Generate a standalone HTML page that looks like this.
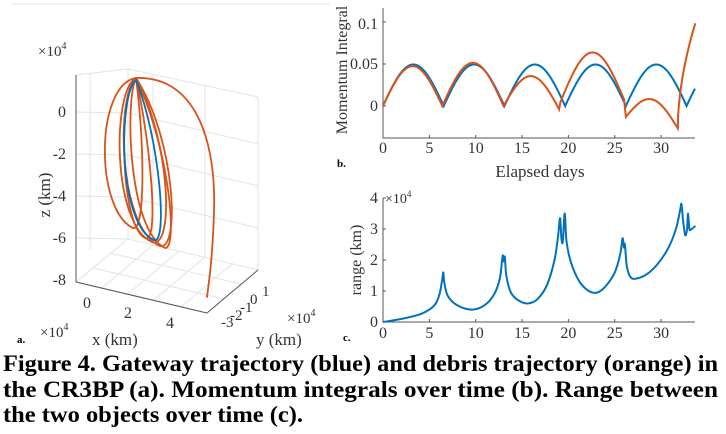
<!DOCTYPE html>
<html><head><meta charset="utf-8"><style>
html,body{margin:0;padding:0;background:#fff;}
svg{display:block;font-family:"Liberation Serif",serif;}
</style></head><body>
<svg id="s" width="726" height="434" viewBox="0 0 726 434" xmlns="http://www.w3.org/2000/svg">
<rect width="726" height="434" fill="#fff"/>
<g stroke="#e3e3e3" stroke-width="1" fill="none">
<line x1="12" y1="4" x2="330" y2="4"/>
<polygon points="76,282 207,313 258,270 128,239"/>
<line x1="128" y1="239" x2="128" y2="69"/>
<line x1="258" y1="270" x2="258" y2="97"/>
<line x1="128" y1="69" x2="258" y2="97"/>
<line x1="76" y1="75" x2="128" y2="69"/>
<line x1="102" y1="288" x2="153" y2="245"/>
<line x1="128" y1="294" x2="179" y2="251"/>
<line x1="154" y1="300" x2="205" y2="257"/>
<line x1="181" y1="307" x2="232" y2="264"/>
<line x1="93" y1="268" x2="224" y2="299"/>
<line x1="110" y1="253" x2="241" y2="284"/>
<line x1="128" y1="197" x2="258" y2="228"/>
<line x1="128" y1="155" x2="258" y2="186"/>
<line x1="128" y1="113" x2="258" y2="144"/>
<line x1="76" y1="112" x2="128" y2="113"/>
<line x1="76" y1="154" x2="128" y2="155"/>
<line x1="76" y1="196" x2="128" y2="197"/>
<line x1="76" y1="238" x2="128" y2="239"/>
<line x1="90" y1="73" x2="90" y2="250"/>
<line x1="153" y1="75" x2="153" y2="245"/>
<line x1="205" y1="86" x2="205" y2="257"/>
</g>
<g stroke="#555" stroke-width="1">
<line x1="76" y1="282" x2="207" y2="313"/>
<line x1="207" y1="313" x2="258" y2="270"/>
<line x1="76" y1="75" x2="76" y2="282"/>
</g>
<g fill="none" stroke-width="1.8" stroke-linecap="round">
<path stroke="#D95319" d="M136,78 C95,85 95,210 133,228 C145,232 145,150 136,78"/>
<path stroke="#D95319" d="M136,78 C112,90 112,225 152,242 C175,250 170,140 136,78"/>
<path stroke="#D95319" d="M136,78 C116,95 118,228 160,246 C180,252 176,140 136,78"/>
<path stroke="#D95319" d="M136,78 C118,95 120,225 145,238 C160,245 150,140 136,78"/>
<path stroke="#D95319" d="M136,78 C125,100 128,230 165,248 C178,250 170,150 136,78"/>
<path stroke="#0072BD" d="M136,80 C118,95 118,225 154,240 C168,245 160,140 136,80"/>
<path stroke="#D95319" d="M136,78 C200,76 216,150 214,210 C213,250 210,275 207,297"/>
</g>
<g font-size="16" fill="#333" text-anchor="end">
<text x="66" y="117">0</text><text x="66" y="159">-2</text><text x="66" y="201">-4</text><text x="66" y="243">-6</text><text x="66" y="285">-8</text>
</g>
<text x="38" y="56" font-size="15" fill="#333">×10<tspan font-size="10" dy="-7">4</tspan></text>
<text transform="translate(50,195) rotate(-90)" font-size="17" fill="#333" text-anchor="middle">z (km)</text>
<g font-size="16" fill="#333" text-anchor="middle">
<text x="87" y="308">0</text><text x="128" y="318">2</text><text x="170" y="328">4</text>
</g>
<g font-size="15" fill="#333">
<text x="221" y="327">-3</text><text x="230" y="320">-2</text><text x="240" y="312">-1</text><text x="250" y="304">0</text><text x="262" y="296">1</text>
</g>
<text x="287" y="323" font-size="15" fill="#333">×10<tspan font-size="10" dy="-7">4</tspan></text>
<text x="40" y="337" font-size="15" fill="#333">×10<tspan font-size="10" dy="-7">4</tspan></text>
<text x="17" y="343" font-size="11" font-weight="bold">a.</text>
<text x="92" y="345" font-size="17" fill="#333">x (km)</text>
<text x="256" y="345" font-size="17" fill="#333">y (km)</text>
<g stroke="#555" stroke-width="1" fill="none">
<path d="M383,8 V138 H695"/>
</g>
<g id="bt" stroke="#555"></g>
<g font-size="16" fill="#333" text-anchor="end">
<text x="378" y="29">0.1</text><text x="378" y="69">0.05</text><text x="378" y="111">0</text>
</g>
<g id="bx" font-size="16" fill="#333" text-anchor="middle"></g>
<text x="540" y="177" font-size="17" fill="#333" text-anchor="middle">Elapsed days</text>
<text transform="translate(347,70) rotate(-90)" font-size="16" fill="#333" text-anchor="middle">Momentum Integral</text>
<text x="337" y="167" font-size="11" font-weight="bold">b.</text>
<path id="mb" fill="none" stroke="#0072BD" stroke-width="2"/>
<path id="mo" fill="none" stroke="#D95319" stroke-width="2"/>
<g stroke="#555" stroke-width="1" fill="none">
<path d="M383,198 V322 H695"/>
</g>
<g font-size="16" fill="#333" text-anchor="end">
<text x="378" y="327">0</text><text x="378" y="296">1</text><text x="378" y="265">2</text><text x="378" y="234">3</text><text x="378" y="203">4</text>
</g>
<text x="385" y="203" font-size="14" fill="#333">×10<tspan font-size="9" dy="-6">4</tspan></text>
<text transform="translate(361,260) rotate(-90)" font-size="16" fill="#333" text-anchor="middle">range (km)</text>
<g id="cx" font-size="16" fill="#333" text-anchor="middle"></g>
<text x="343" y="341" font-size="11" font-weight="bold">c.</text>
<path id="rc" fill="none" stroke="#0072BD" stroke-width="2" stroke-linejoin="round"/>
<g font-size="23" font-weight="bold" fill="#000">
<text x="3" y="371" textLength="715" lengthAdjust="spacingAndGlyphs">Figure 4.  Gateway trajectory (blue) and debris trajectory (orange) in</text>
<text x="3" y="397" textLength="715" lengthAdjust="spacingAndGlyphs">the CR3BP (a).  Momentum integrals over time (b). Range between</text>
<text x="3" y="422" textLength="300" lengthAdjust="spacingAndGlyphs">the two objects over time (c).</text>
</g>
</svg>
<script>
var NS="http://www.w3.org/2000/svg";
function X(t){return 383+t*9.27;}
function Yb(v){return 106-v*830;}
function Yc(r){return 322-r*31;}
var bt=document.getElementById('bt'),bx=document.getElementById('bx'),cx=document.getElementById('cx');
for(var t=0;t<=30;t+=5){
 [[bx,153],[cx,338]].forEach(function(a){var e=document.createElementNS(NS,'text');e.setAttribute('x',X(t));e.setAttribute('y',a[1]);e.textContent=t;a[0].appendChild(e);});
 [[138],[322]].forEach(function(a){var l=document.createElementNS(NS,'line');l.setAttribute('x1',X(t));l.setAttribute('x2',X(t));l.setAttribute('y1',a[0]);l.setAttribute('y2',a[0]-3);bt.appendChild(l);});
}
[106,64,22,322,291,260,229,198].forEach(function(y){var l=document.createElementNS(NS,'line');l.setAttribute('x1',383);l.setAttribute('x2',386);l.setAttribute('y1',y);l.setAttribute('y2',y);bt.appendChild(l);});
var d='';
for(var t=0;t<=33.7;t+=0.05){var v=0.05*Math.abs(Math.sin(Math.PI*t/6.55));d+=(d?'L':'M')+X(t).toFixed(1)+','+Yb(v).toFixed(1);}
document.getElementById('mb').setAttribute('d',d);
var segs=[[0,6.4,0,0,0.048],[6.4,13,0,0,0.052],[13,19,0,-0.004,0.038],[19,19.15,-0.004,0.005,0],[19.15,26,0.005,0.008,0.058],[26,26.2,0.008,-0.013,0],[26.2,31.8,-0.013,-0.027,0.028]];
d='';
segs.forEach(function(s){for(var t=s[0];t<=s[1]+1e-9;t+=0.04){var u=(t-s[0])/(s[1]-s[0]);var v=s[2]+(s[3]-s[2])*u+s[4]*Math.sin(Math.PI*u);d+=(d?'L':'M')+X(t).toFixed(1)+','+Yb(v).toFixed(1);}});
for(var t=31.8;t<=33.7;t+=0.03){var u=(t-31.8)/1.9;var v=-0.027+0.127*Math.pow(u,0.55);d+='L'+X(t).toFixed(1)+','+Yb(v).toFixed(1);}
document.getElementById('mo').setAttribute('d',d);
var P=[[0,0],[2,0.1],[4,0.25],[5,0.4],[5.7,0.6],[6.1,0.9],[6.35,1.3],[6.5,1.6],[6.6,1.3],[6.9,0.9],[7.5,0.65],[8.5,0.47],[9.7,0.4],[11,0.55],[12,0.9],[12.6,1.4],[12.85,2.0],[12.95,2.15],[13.05,1.95],[13.15,2.1],[13.3,1.5],[13.8,0.95],[14.7,0.68],[15.7,0.6],[16.7,0.75],[17.7,1.2],[18.5,2.0],[18.9,2.8],[19.1,3.35],[19.25,2.7],[19.4,2.6],[19.6,3.5],[19.8,2.6],[20.3,1.9],[21.2,1.3],[22.2,1.0],[23.1,0.95],[24,1.15],[25,1.6],[25.6,2.2],[25.85,2.7],[26,2.4],[26.1,2.5],[26.3,1.8],[26.7,1.45],[27.3,1.4],[28.5,1.55],[29.7,1.9],[30.8,2.4],[31.6,3.0],[32.05,3.6],[32.2,3.8],[32.4,3.2],[32.6,2.8],[32.8,3.0],[32.9,3.5],[33.05,3.0],[33.3,3.0],[33.7,3.1]];
var Q=P.map(function(p){return [X(p[0]),Yc(p[1])];});
d='M'+Q[0][0].toFixed(1)+','+Q[0][1].toFixed(1);
for(var i=0;i<Q.length-1;i++){
 var p0=Q[Math.max(0,i-1)],p1=Q[i],p2=Q[i+1],p3=Q[Math.min(Q.length-1,i+2)];
 var c1x=p1[0]+(p2[0]-p0[0])/6,c1y=p1[1]+(p2[1]-p0[1])/6,c2x=p2[0]-(p3[0]-p1[0])/6,c2y=p2[1]-(p3[1]-p1[1])/6;
 c1x=Math.min(Math.max(c1x,p1[0]),p2[0]);c2x=Math.min(Math.max(c2x,p1[0]),p2[0]);
 d+='C'+c1x.toFixed(1)+','+c1y.toFixed(1)+' '+c2x.toFixed(1)+','+c2y.toFixed(1)+' '+p2[0].toFixed(1)+','+p2[1].toFixed(1);
}
document.getElementById('rc').setAttribute('d',d);
</script>
</body></html>
